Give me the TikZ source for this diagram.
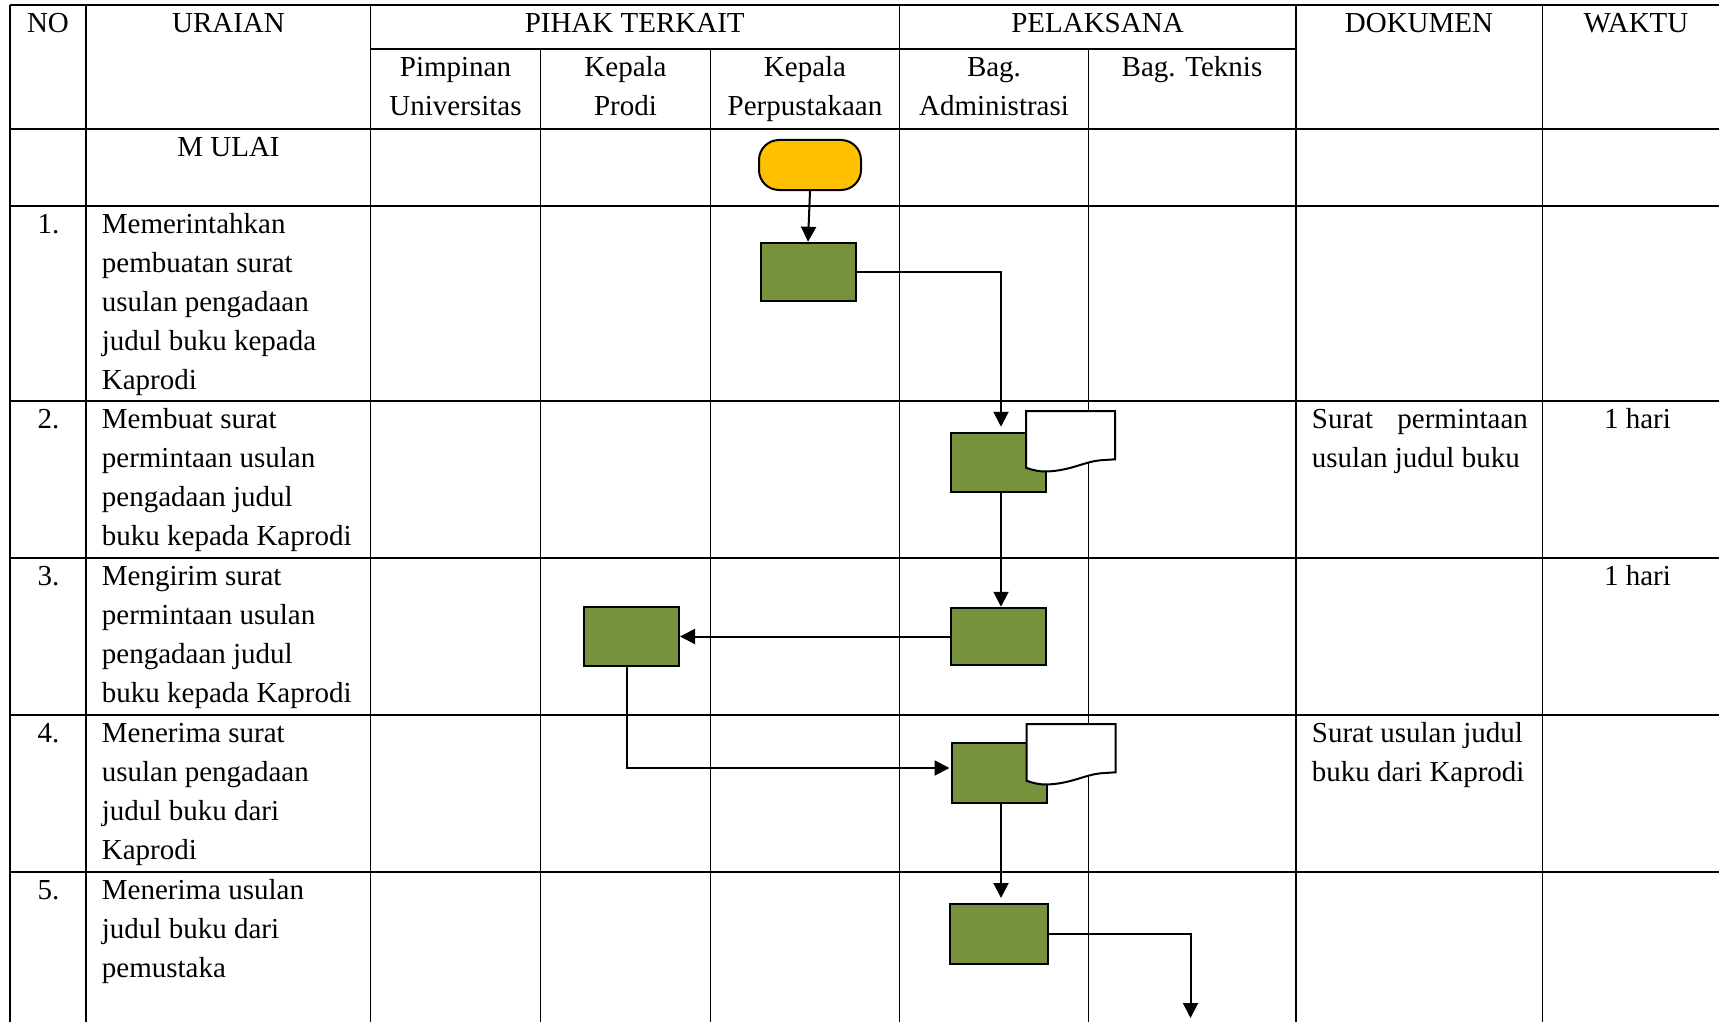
\documentclass[tikz,border=0pt]{standalone}
\usepackage{fontspec}
\setmainfont{Liberation Serif}
\usetikzlibrary{arrows.meta}
\definecolor{procgreen}{HTML}{76923C}
\definecolor{termyellow}{HTML}{FFC000}
\tikzset{
  gridline/.style={line width=1.5pt, black},
  procbox/.style={draw=black, line width=2pt, fill=procgreen, inner sep=0pt, minimum width=95pt, minimum height=58.5pt},
  startbox/.style={draw=black, line width=2pt, fill=termyellow, rounded corners=20pt, inner sep=0pt, minimum width=102pt, minimum height=50pt},
  flow/.style={line width=2pt, -{Triangle[length=15pt,width=15pt]}},
  docline/.style={draw=black, line width=2pt, fill=white, line join=miter},
  ltxt/.style={anchor=base west, inner sep=0pt, font=\fontsize{29}{39}\selectfont},
  ctxt/.style={anchor=base, inner sep=0pt, font=\fontsize{29}{39}\selectfont},
  docpic/.pic={
    \path[docline] (0,0) -- (89,0) -- (89,48.3) -- (74,49.3)
      .. controls (60,50.5) and (45,59) .. (24,60.3)
      .. controls (14,61) and (8,59.5) .. (0,56.7) -- cycle;
  }
}
\begin{document}
\begin{tikzpicture}[x=1pt,y=-1pt]
\useasboundingbox (0,0) rectangle (1719,1022);
% ---- table grid ----
\draw[gridline] (10,5) -- (1719,5);
\draw[gridline] (370.5,49) -- (1296,49);
\foreach \yy in {129,206,401,558,715,872} \draw[gridline] (10,\yy) -- (1719,\yy);
\foreach \xx in {10,86,370.5,899.5,1296,1542.5} \draw[gridline] (\xx,5) -- (\xx,1022);
\foreach \xx in {540.5,710.5,1088.5} \draw[gridline] (\xx,49) -- (\xx,1022);
% ---- headers ----
\node[ctxt] (hno) at (48,33) {NO};
\node[ctxt] (hur) at (228.5,33) {URAIAN};
\node[ctxt] (hpt) at (634.7,33) {PIHAK TERKAIT};
\node[ctxt] (hpl) at (1097.5,33) {PELAKSANA};
\node[ctxt] (hdk) at (1419,33) {DOKUMEN};
\node[ctxt] (hwk) at (1636,33) {WAKTU};
\node[ctxt] (s1a) at (455.5,77) {Pimpinan};
\node[ctxt] (s1b) at (455.5,116) {Universitas};
\node[ctxt] (s2a) at (625.5,77) {Kepala};
\node[ctxt] (s2b) at (625.5,116) {Prodi};
\node[ctxt] (s3a) at (805,77) {Kepala};
\node[ctxt] (s3b) at (805,116) {Perpustakaan};
\node[ctxt] (s4a) at (994,77) {Bag.};
\node[ctxt] (s4b) at (994,116) {Administrasi};
\node[ctxt] (s5a) at (1192,77) {Bag. Teknis};
\node[ctxt] (mulai) at (228.5,156.5) {M ULAI};
% ---- row numbers ----
\node[ltxt] (n1) at (37.5,233.5) {1.};
\node[ltxt] (n2) at (37.5,428.5) {2.};
\node[ltxt] (n3) at (37.5,585.5) {3.};
\node[ltxt] (n4) at (37.5,742.5) {4.};
\node[ltxt] (n5) at (37.5,899) {5.};
% ---- uraian ----
\foreach \t [count=\i] in {Memerintahkan, pembuatan surat, usulan pengadaan, judul buku kepada, Kaprodi}
  \node[ltxt] (ua\i) at (101.7,194.5+39*\i) {\t};
\foreach \t [count=\i] in {Membuat surat, permintaan usulan, pengadaan judul, buku kepada Kaprodi}
  \node[ltxt] (ub\i) at (101.7,389.5+39*\i) {\t};
\foreach \t [count=\i] in {Mengirim surat, permintaan usulan, pengadaan judul, buku kepada Kaprodi}
  \node[ltxt] (uc\i) at (101.7,546.5+39*\i) {\t};
\foreach \t [count=\i] in {Menerima surat, usulan pengadaan, judul buku dari, Kaprodi}
  \node[ltxt] (ud\i) at (101.7,703.5+39*\i) {\t};
\foreach \t [count=\i] in {Menerima usulan, judul buku dari, pemustaka}
  \node[ltxt] (ue\i) at (101.7,860+39*\i) {\t};
% ---- dokumen / waktu ----
\node[ltxt] (d2a) at (1311.7,428.5) {\makebox[216pt][s]{Surat permintaan}};
\node[ltxt] (d2b) at (1311.7,467.5) {usulan judul buku};
\node[ltxt] (d4a) at (1311.7,742.5) {Surat usulan judul};
\node[ltxt] (d4b) at (1311.7,781.5) {buku dari Kaprodi};
\node[ctxt] (w2) at (1637.5,428.5) {1 hari};
\node[ctxt] (w3) at (1637.5,585.5) {1 hari};
% ---- flow shapes ----
\node[startbox] (start) at (810,165) {};
\node[procbox] (b1) at (808,272) {};
\node[procbox, minimum height=59.5pt] (b2) at (998.5,462.5) {};
\node[procbox, minimum height=57.5pt] (b3) at (998.5,636.5) {};
\node[procbox] (b3L) at (631.5,636.5) {};
\node[procbox, minimum height=59.5pt] (b4) at (999,773) {};
\node[procbox, minimum width=98pt, minimum height=60pt] (b5) at (999,934) {};
\pic at (1026,411) {docpic};
\pic at (1026.5,724) {docpic};
\coordinate (fend) at (1190.5,1018);
% ---- connectors ----
\draw[flow] (start.south) -- (b1.north);
\draw[flow, shorten >=5pt] (b1.east) -| ([xshift=2.5pt]b2.north);
\draw[flow] ([xshift=2.5pt]b2.south) -- ([xshift=2.5pt]b3.north);
\draw[flow] (b3.west) -- (b3L.east);
\draw[flow, shorten >=1pt] ([xshift=-4.5pt]b3L.south) |- ([yshift=5pt]b4.west);
\draw[flow, shorten >=5pt] ([xshift=2pt]b4.south) -- ([xshift=2pt]b5.north);
\draw[flow] (b5.east) -| (fend);
\end{tikzpicture}
\end{document}
